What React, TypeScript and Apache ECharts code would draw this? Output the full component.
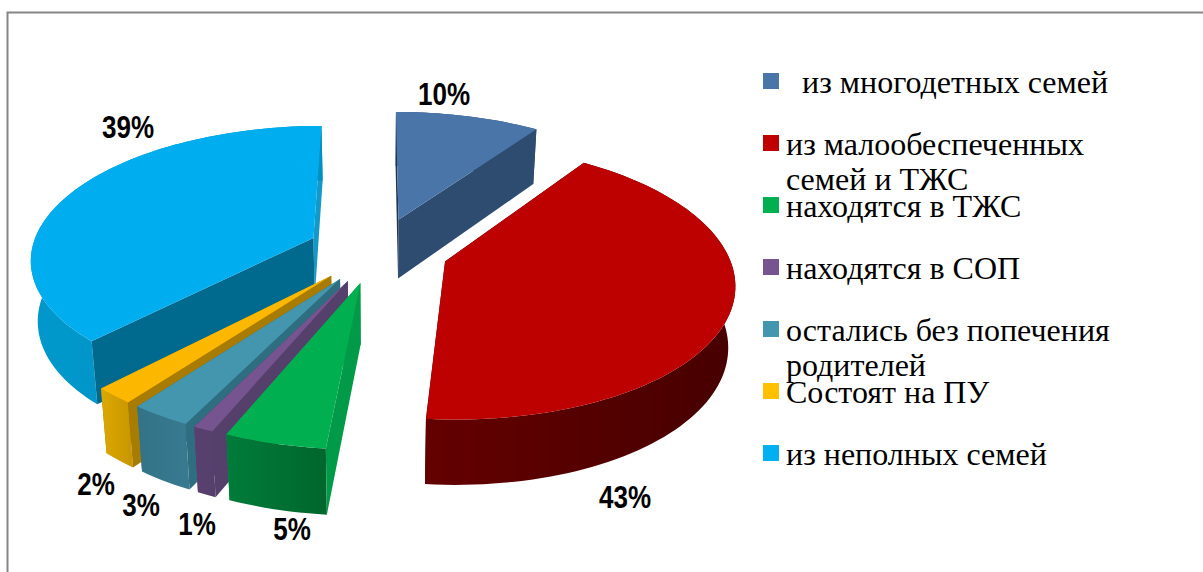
import React, { useEffect, useRef } from "react";
import * as echarts from "echarts";

const categories = [
  "  из многодетных семей",
  "из малообеспеченных\nсемей и ТЖС",
  "находятся в ТЖС",
  "находятся в СОП",
  "остались без попечения\nродителей",
  "Состоят на ПУ",
  "из неполных семей",
];
const values = [10, 43, 5, 1, 3, 2, 39];
const topColors = ["#4a75a8", "#bd0000", "#00b050", "#75548f", "#4495ae", "#fcb800", "#00aeef"];
const legendColors = ["#4a75a8", "#c00000", "#00b050", "#75548f", "#4495ae", "#ffc000", "#00b0f0"];
const startWallColors = ["#1f3550", "#470000", "#009a48", "#55406c", "#2f6d80", "#a87c00", "#006a8e"];
const endWallColors = ["#2e4b70", "#470000", "#009a48", "#55406c", "#2f6d80", "#a87c00", "#1299c9"];
const rimLeft = ["#2e4b70", "#640000", "#007c3a", "#5a3f70", "#337388", "#dca800", "#0098cc"];
const rimRight = ["#2e4b70", "#470000", "#00662c", "#54406c", "#3a7a90", "#c89500", "#008fc2"];
const labelCenters = [[444, 94], [625, 497], [292, 529], [197, 524], [141, 505], [96, 484], [128, 127]];

const CX = 378, CY = 250, R = 282, TR = 131.5, K = 0.145, EXPLODE = 0.25;
const total = values.reduce((a, b) => a + b, 0);

function project(gu: number, gv: number) {
  const p = 1 / (1 + K * gv);
  return [CX + R * gu * p, CY - TR * gv * p];
}
function lower(gu: number, gv: number) {
  const [x, y] = project(gu, gv);
  return [CX + (x - CX) * 0.98, y + 60 - 5 * gv];
}

function renderSlice(params: any) {
  const i = params.dataIndex;
  let before = 0;
  for (let k = 0; k < i; k++) before += values[k];
  const a0 = (before / total) * 2 * Math.PI;
  const a1 = ((before + values[i]) / total) * 2 * Math.PI;
  const mid = (a0 + a1) / 2;
  const ou = EXPLODE * Math.sin(mid), ov = EXPLODE * Math.cos(mid);
  const ring: number[][] = [];
  const n = Math.max(4, Math.ceil((a1 - a0) / 0.03));
  for (let s = 0; s <= n; s++) {
    const a = a0 + ((a1 - a0) * s) / n;
    ring.push([ou + Math.sin(a), ov + Math.cos(a)]);
  }
  const topRing = ring.map((g) => project(g[0], g[1]));
  const botRing = ring.map((g) => lower(g[0], g[1]));
  const apexT = project(ou, ov), apexB = lower(ou, ov);
  const poly = (pts: number[][], fill: any, z2: number) => ({
    type: "polygon", z2, shape: { points: pts }, style: { fill, stroke: "none" },
  });
  const rimFill = {
    type: "linear", x: 0, y: 0, x2: 1, y2: 0,
    colorStops: [{ offset: 0, color: rimLeft[i] }, { offset: 1, color: rimRight[i] }],
  };
  const base = Math.round((1 - ov) * 100) * 10;
  return {
    type: "group",
    children: [
      poly([apexT, topRing[n], botRing[n], apexB], endWallColors[i], base),
      poly([...topRing, ...botRing.slice().reverse()], rimFill, base + 1),
      poly([apexT, topRing[0], botRing[0], apexB], startWallColors[i], base + 1),
      poly([apexT, ...topRing], topColors[i], base + 2),
      {
        type: "text", z2: 5000,
        x: labelCenters[i][0], y: labelCenters[i][1], scaleX: 0.84,
        style: {
          text: values[i] + "%",
          align: "center", verticalAlign: "middle", fill: "#000",
          font: 'bold 31px "Liberation Sans",sans-serif',
        },
      },
    ],
  };
}

const legendGraphics = categories.flatMap((name, i) => {
  const top = 73 + 62 * i;
  return [
    { type: "rect", shape: { x: 763, y: top, width: 16, height: 16 }, style: { fill: legendColors[i] } },
    {
      type: "text", x: 786, y: top - 9,
      style: {
        text: name, fill: "#000", lineHeight: 35, align: "left", verticalAlign: "top",
        font: '32px "Liberation Serif",serif',
      },
    },
  ];
});

export default function App() {
  const ref = useRef<HTMLDivElement>(null);
  useEffect(() => {
    const chart = echarts.init(ref.current!, null, { renderer: "svg" });
    chart.setOption({
      animation: false,
      backgroundColor: "#ffffff",
      graphic: [
        {
          type: "polyline",
          shape: { points: [[7.5, 572], [7.5, 12.5], [1203, 12.5]] },
          style: { stroke: "#868686", lineWidth: 2, fill: "none" },
        },
        ...legendGraphics,
      ],
      series: [
        {
          type: "custom",
          coordinateSystem: "none",
          silent: true,
          data: values.map((v, i) => ({ name: categories[i].trim(), value: v })),
          renderItem: renderSlice,
        },
      ],
    });
    return () => chart.dispose();
  }, []);
  return <div ref={ref} style={{ position: "fixed", left: 0, top: 0, width: 1203, height: 572 }} />;
}
